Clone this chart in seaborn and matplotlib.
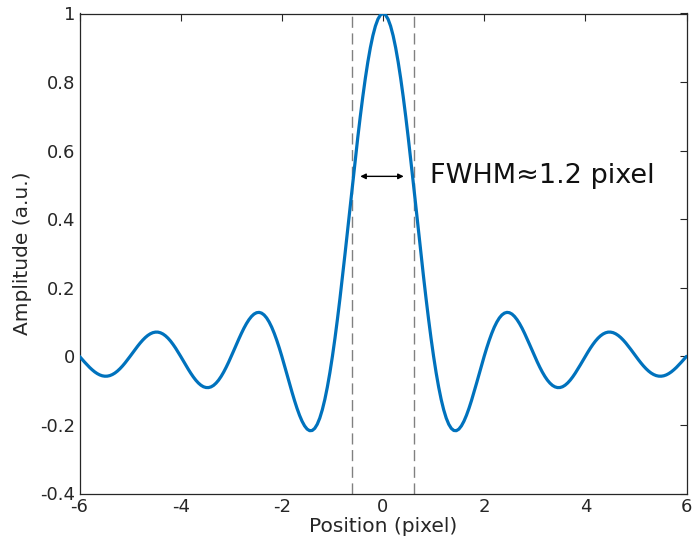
import numpy as np
import pandas as pd
import matplotlib
matplotlib.use("Agg")
import matplotlib.pyplot as plt
import seaborn as sns

# Sample grid (pixel positions, step 0.05) and amplitude values
position = np.round(np.linspace(-6, 6, 241), 2)
amplitude = [
    0.0, -0.0084, -0.0167, -0.0247, -0.0323, -0.0391, -0.0452, -0.0502, -0.0541, -0.0567,
    -0.0579, -0.0577, -0.0561, -0.0530, -0.0486, -0.0429, -0.0360, -0.0281, -0.0193, -0.0099,
    0.0, 0.0101, 0.0201, 0.0298, 0.0390, 0.0474, 0.0548, 0.0610, 0.0658, 0.0691,
    0.0707, 0.0707, 0.0688, 0.0652, 0.0599, 0.0530, 0.0446, 0.0348, 0.0240, 0.0123,
    0.0, -0.0126, -0.0252, -0.0375, -0.0492, -0.0600, -0.0696, -0.0777, -0.0841, -0.0886,
    -0.0909, -0.0911, -0.0890, -0.0847, -0.0780, -0.0693, -0.0585, -0.0459, -0.0317, -0.0163,
    0.0, 0.0169, 0.0339, 0.0507, 0.0668, 0.0819, 0.0954, 0.1070, 0.1164, 0.1233,
    0.1273, 0.1283, 0.1261, 0.1207, 0.1120, 0.1000, 0.0851, 0.0672, 0.0468, 0.0243,
    0.0, -0.0255, -0.0518, -0.0781, -0.1039, -0.1286, -0.1515, -0.1719, -0.1892, -0.2028,
    -0.2122, -0.2168, -0.2162, -0.2101, -0.1981, -0.1801, -0.1559, -0.1257, -0.0894, -0.0474,
    0.0, 0.0524, 0.1093, 0.1700, 0.2339, 0.3001, 0.3679, 0.4363, 0.5046, 0.5716,
    0.6366, 0.6987, 0.7568, 0.8103, 0.8584, 0.9003, 0.9355, 0.9634, 0.9836, 0.9959,
    1.0,
    0.9959, 0.9836, 0.9634, 0.9355, 0.9003, 0.8584, 0.8103, 0.7568, 0.6987, 0.6366,
    0.5716, 0.5046, 0.4363, 0.3679, 0.3001, 0.2339, 0.1700, 0.1093, 0.0524, 0.0,
    -0.0474, -0.0894, -0.1257, -0.1559, -0.1801, -0.1981, -0.2101, -0.2162, -0.2168, -0.2122,
    -0.2028, -0.1892, -0.1719, -0.1515, -0.1286, -0.1039, -0.0781, -0.0518, -0.0255, 0.0,
    0.0243, 0.0468, 0.0672, 0.0851, 0.1000, 0.1120, 0.1207, 0.1261, 0.1283, 0.1273,
    0.1233, 0.1164, 0.1070, 0.0954, 0.0819, 0.0668, 0.0507, 0.0339, 0.0169, 0.0,
    -0.0163, -0.0317, -0.0459, -0.0585, -0.0693, -0.0780, -0.0847, -0.0890, -0.0911, -0.0909,
    -0.0886, -0.0841, -0.0777, -0.0696, -0.0600, -0.0492, -0.0375, -0.0252, -0.0126, 0.0,
    0.0123, 0.0240, 0.0348, 0.0446, 0.0530, 0.0599, 0.0652, 0.0688, 0.0707, 0.0707,
    0.0691, 0.0658, 0.0610, 0.0548, 0.0474, 0.0390, 0.0298, 0.0201, 0.0101, 0.0,
    -0.0099, -0.0193, -0.0281, -0.0360, -0.0429, -0.0486, -0.0530, -0.0561, -0.0577, -0.0579,
    -0.0567, -0.0541, -0.0502, -0.0452, -0.0391, -0.0323, -0.0247, -0.0167, -0.0084, 0.0,
]
fwhm_edges = [-0.603, 0.603]
arrow_span = [-0.45, 0.41]
arrow_level = 0.525
annotation = "FWHM\u22481.2 pixel"
xticks = [-6, -4, -2, 0, 2, 4, 6]
yticks = [-0.4, -0.2, 0, 0.2, 0.4, 0.6, 0.8, 1]

sns.set_style("white")
plt.rcParams["font.family"] = ["DejaVu Sans"]
plt.rcParams["axes.unicode_minus"] = False

df = pd.DataFrame({"Position": position, "Amplitude": amplitude})

fig = plt.figure(figsize=(6.92, 5.52), dpi=100)
ax = fig.add_axes([79.5 / 692, 1 - 493.5 / 552, (686.5 - 79.5) / 692, (493.5 - 13.5) / 552])

for xe in fwhm_edges:
    ax.axvline(xe, color="#808080", lw=1.0, dashes=(8, 4), zorder=1)

sns.lineplot(data=df, x="Position", y="Amplitude", ax=ax, color="#0072BD", lw=2.3, zorder=3)

ax.annotate("", xy=(arrow_span[0], arrow_level), xytext=(arrow_span[1], arrow_level),
            arrowprops=dict(arrowstyle="<|-|>", color="black", lw=1.0,
                            mutation_scale=8, shrinkA=0, shrinkB=0))
ax.text(0.93, arrow_level, annotation, fontsize=19.5, color="#111111",
        va="center", ha="left")

ax.set_xlim(-6, 6)
ax.set_ylim(-0.4, 1)
ax.set_xticks(xticks)
ax.set_yticks(yticks)
ax.set_xticklabels([f"{t:g}" for t in xticks])
ax.set_yticklabels([f"{t:g}" for t in yticks])
ax.tick_params(direction="in", length=5, width=0.8, colors="#262626", labelsize=13,
               top=True, right=True, pad=3)
ax.set_xlabel("Position (pixel)", fontsize=14.5, color="#262626", labelpad=1)
ax.set_ylabel("Amplitude (a.u.)", fontsize=14.5, color="#262626", labelpad=6)
for s in ax.spines.values():
    s.set_visible(True)
    s.set_color("#262626")
    s.set_linewidth(0.9)

fig.savefig("out.png", dpi=100)
